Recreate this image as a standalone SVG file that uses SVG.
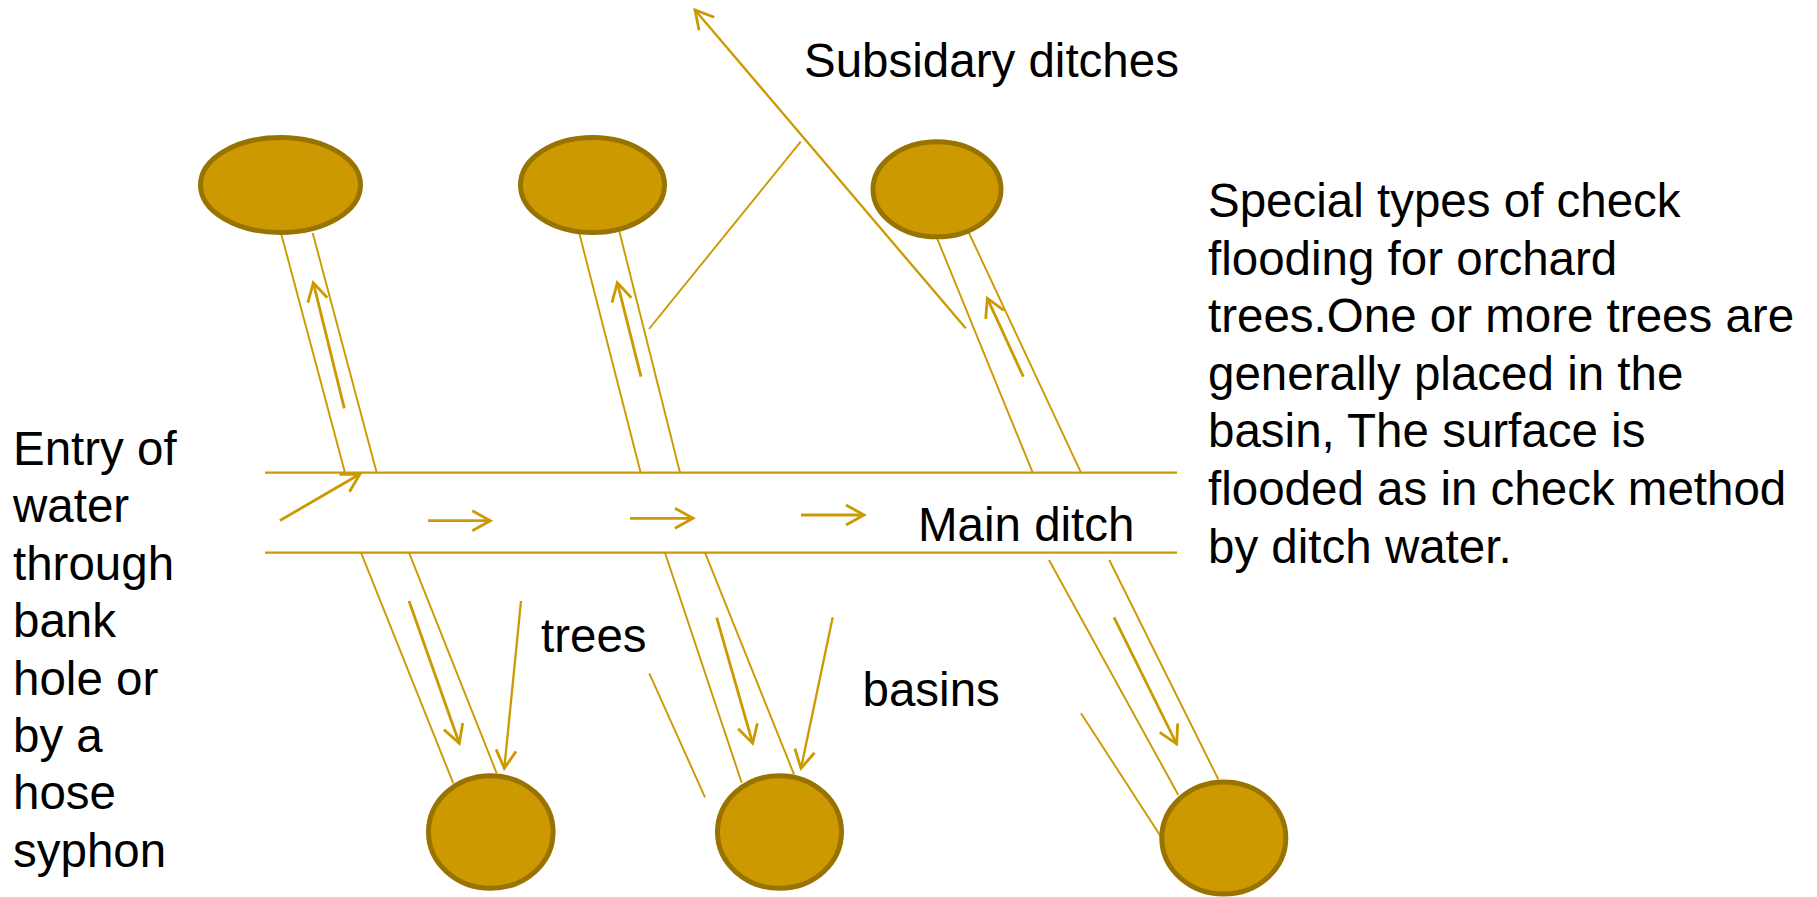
<svg xmlns="http://www.w3.org/2000/svg" width="1817" height="897" viewBox="0 0 1817 897">
<style>
.tree{fill:#CC9900;stroke:#997300;stroke-width:5}
.ln{stroke:#CC9900;stroke-width:1.9;fill:none}
.main{stroke:#CC9900;stroke-width:2.3;fill:none}
.arr{stroke:#CC9900;stroke-width:2.8;fill:none;marker-end:url(#ah)}
.arr2{stroke:#CC9900;stroke-width:2.3;fill:none;marker-end:url(#ah)}
.t{font-family:"Liberation Sans",Arial,sans-serif;font-size:47.5px;fill:#000}
</style>
<defs>
<marker id="ah" markerUnits="userSpaceOnUse" viewBox="-22 -13 26 26" refX="0" refY="0" markerWidth="26" markerHeight="26" orient="auto" overflow="visible">
<path d="M-18,-10 L0,0 L-18,10" fill="none" stroke="#CC9900" stroke-width="2.8" stroke-linejoin="miter"/>
</marker>
</defs>
<rect width="1817" height="897" fill="#fff"/>
<g id="connectors">
<line class="main" x1="265" y1="472.7" x2="1177" y2="472.7"/>
<line class="main" x1="265" y1="552.7" x2="1177" y2="552.7"/>
<line class="ln" x1="281" y1="233" x2="345" y2="472.7"/>
<line class="ln" x1="312.7" y1="233" x2="376.7" y2="472.7"/>
<line class="ln" x1="579.3" y1="233.3" x2="640.7" y2="472.7"/>
<line class="ln" x1="618.3" y1="227.3" x2="680" y2="472.7"/>
<line class="ln" x1="936.7" y1="237.3" x2="1032.7" y2="472.7"/>
<line class="ln" x1="967.3" y1="229.3" x2="1081" y2="472.7"/>
<line class="ln" x1="361" y1="552.7" x2="453.3" y2="783.3"/>
<line class="ln" x1="409" y1="552.7" x2="496.7" y2="773.3"/>
<line class="ln" x1="665" y1="552.7" x2="741.7" y2="782.7"/>
<line class="ln" x1="705" y1="552.7" x2="794" y2="774.3"/>
<line class="ln" x1="1049" y1="560" x2="1178.3" y2="795"/>
<line class="ln" x1="1109.3" y1="560" x2="1218.3" y2="779.3"/>
<line class="ln" x1="649.3" y1="673.3" x2="705" y2="797.3"/>
<line class="ln" x1="1081" y1="713.3" x2="1161" y2="836.7"/>
<line class="ln" x1="649" y1="329" x2="800.7" y2="141.7"/>
<line class="arr2" x1="965.7" y1="328.3" x2="695" y2="10"/>
<line class="arr" x1="280" y1="520.5" x2="360" y2="474"/>
<line class="arr" x1="428" y1="520.7" x2="490.3" y2="520.7"/>
<line class="arr" x1="630" y1="518.3" x2="693" y2="518.3"/>
<line class="arr" x1="801" y1="515" x2="864" y2="515"/>
<line class="arr" x1="344.3" y1="408.3" x2="313.3" y2="282.7"/>
<line class="arr" x1="641" y1="376.7" x2="617.3" y2="282.7"/>
<line class="arr" x1="1023.3" y1="376.7" x2="987.3" y2="298.3"/>
<line class="arr" x1="409" y1="601" x2="459.3" y2="743.3"/>
<line class="arr" x1="716.7" y1="617.7" x2="752.7" y2="743.3"/>
<line class="arr" x1="1114" y1="617.3" x2="1176.7" y2="744"/>
<line class="arr2" x1="521" y1="601" x2="504.3" y2="768.3"/>
<line class="arr2" x1="832.7" y1="617.3" x2="801" y2="768.3"/>
</g>
<g id="tree-top-1"><ellipse class="tree" cx="280.5" cy="185" rx="80" ry="47.5"/></g>
<g id="tree-top-2"><ellipse class="tree" cx="592.5" cy="185" rx="72" ry="47.5"/></g>
<g id="tree-top-3"><ellipse class="tree" cx="937" cy="189.3" rx="64" ry="47.5"/></g>
<g id="tree-bottom-1"><ellipse class="tree" cx="490.8" cy="832" rx="62.3" ry="56.3"/></g>
<g id="tree-bottom-2"><ellipse class="tree" cx="779.5" cy="832" rx="62" ry="56.3"/></g>
<g id="tree-bottom-3"><ellipse class="tree" cx="1223.8" cy="838" rx="62" ry="56"/></g>
<g id="labels">
<text class="t" x="804" y="77">Subsidary ditches</text>
<text class="t" x="918" y="541">Main ditch</text>
<text class="t" x="541" y="651.5">trees</text>
<text class="t" x="862.5" y="706">basins</text>
<text class="t" x="13" y="465">
<tspan x="13" y="465">Entry of</tspan>
<tspan x="13" y="522.4">water</tspan>
<tspan x="13" y="579.8">through</tspan>
<tspan x="13" y="637.2">bank</tspan>
<tspan x="13" y="694.6">hole or</tspan>
<tspan x="13" y="752">by a</tspan>
<tspan x="13" y="809.4">hose</tspan>
<tspan x="13" y="866.8">syphon</tspan>
</text>
<text class="t" x="1208" y="217">
<tspan x="1208" y="217">Special types of check</tspan>
<tspan x="1208" y="274.6">flooding for orchard</tspan>
<tspan x="1208" y="332.2">trees.One or more trees are</tspan>
<tspan x="1208" y="389.8">generally placed in the</tspan>
<tspan x="1208" y="447.4">basin, The surface is</tspan>
<tspan x="1208" y="505">flooded as in check method</tspan>
<tspan x="1208" y="562.6">by ditch water.</tspan>
</text>
</g>
</svg>
